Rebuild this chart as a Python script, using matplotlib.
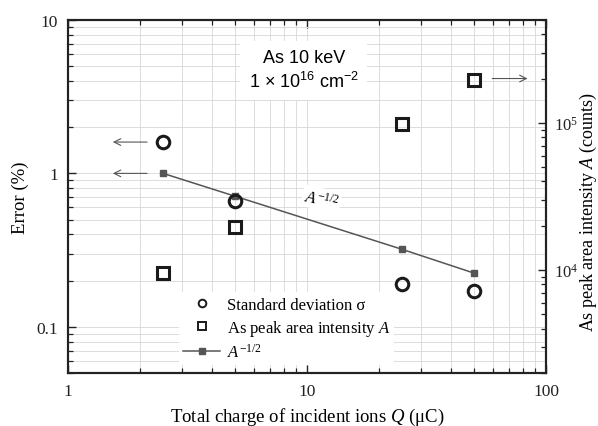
import numpy as np
import matplotlib
matplotlib.use('Agg')
from matplotlib import pyplot as plt
from matplotlib.lines import Line2D
from matplotlib import ticker

# values
Q = [2.5, 5, 25, 50]                      # total charge (uC)
sigma = [1.6, 0.66, 0.19, 0.17]           # standard deviation (%)
A = [9.6e3, 1.95e4, 9.8e4, 1.95e5]        # As peak area intensity (counts)
A_inv_sqrt = [1.0, 0.71, 0.32, 0.224]     # A^-1/2 (%)

plt.rcParams['font.family'] = 'Liberation Serif'
plt.rcParams['mathtext.fontset'] = 'custom'
plt.rcParams['mathtext.rm'] = 'Liberation Serif'
plt.rcParams['mathtext.it'] = 'Liberation Serif:italic'
plt.rcParams['mathtext.sf'] = 'Liberation Sans'

fig = plt.figure(figsize=(5.98, 4.27), dpi=100)
ax = fig.add_axes([0.1137, 0.124, 0.7993, 0.827])
ax2 = ax.twinx()

ax.set_xscale('log')
ax.set_yscale('log')
ax2.set_yscale('log')
ax.set_xlim(1, 100)
ax.set_ylim(0.05, 10)
ax2.set_ylim(2e3, 5e5)

# grid
ax.grid(True, which='both', color='#dcdcdc', linewidth=0.7, zorder=0)
ax.set_axisbelow(True)

# data
ax.plot(Q, A_inv_sqrt, color='#555555', lw=1.1, marker='s', ms=4.5, zorder=4)
ax.plot(Q, sigma, ls='none', marker='o', ms=9, mfc='none', mec='#1a1a1a', mew=2.2, zorder=7)
ax2.plot(Q, A, ls='none', marker='s', ms=8.5, mfc='none', mec='#1a1a1a', mew=2.2, zorder=5)

# arrows
arr = dict(arrowstyle='->', color='#555555', lw=0.8, mutation_scale=12)
ax.annotate('', xy=(1.5, 1.6), xytext=(2.2, 1.6), arrowprops=arr)
ax.annotate('', xy=(1.5, 1.0), xytext=(2.2, 1.0), arrowprops=arr)
ax2.annotate('', xy=(86, 2e5), xytext=(58, 2e5), arrowprops=arr)

# text
ax.text(9.7, 4.7, 'As 10 keV\n1 \u00d7 10$\\mathsf{^{16}}$ cm$\\mathsf{^{-2}}$',
        family='Liberation Sans', fontsize=13, ha='center', va='center',
        linespacing=1.3, zorder=3,
        bbox=dict(facecolor='white', edgecolor='none', pad=6))
ax.text(11.5, 0.68, '$A^{-1/2}$', fontsize=12, ha='center', va='center',
        rotation=-12, zorder=3,
        bbox=dict(facecolor='white', edgecolor='none', pad=1.5))

# legend
handles = [
    Line2D([], [], ls='none', marker='o', ms=5.5, mfc='none', mec='#1a1a1a', mew=1.4),
    Line2D([], [], ls='none', marker='s', ms=5.5, mfc='none', mec='#1a1a1a', mew=1.4),
    Line2D([], [], color='#555555', lw=1.1, marker='s', ms=5),
]
labels = ['Standard deviation \u03c3', 'As peak area intensity $A$', '$A^{-1/2}$']
leg = ax.legend(handles, labels, loc='lower left', bbox_to_anchor=(0.215, 0.0),
                frameon=True, fancybox=False, framealpha=1, edgecolor='none',
                facecolor='white', fontsize=12, handlelength=2.2,
                handletextpad=0.4, labelspacing=0.3, borderpad=0.25)
leg.set_zorder(6)

# ticks
for a in (ax, ax2):
    a.tick_params(which='both', direction='in', labelsize=12.5, colors='#222222', pad=7)
    a.tick_params(which='major', length=6, width=1.0)
    a.tick_params(which='minor', length=3.5, width=0.9)
ax.tick_params(which='both', top=True, right=False)
ax.tick_params(axis='x', pad=7)

ax.yaxis.set_major_locator(ticker.FixedLocator([0.1, 1, 10]))
ax.yaxis.set_major_formatter(ticker.FixedFormatter(['0.1', '1', '10']))
ax.xaxis.set_major_locator(ticker.FixedLocator([1, 10, 100]))
ax.xaxis.set_major_formatter(ticker.FixedFormatter(['1', '10', '100']))
ax2.yaxis.set_major_locator(ticker.FixedLocator([1e4, 1e5]))
ax2.yaxis.set_major_formatter(ticker.FixedFormatter(['10$^4$', '10$^5$']))
ax2.tick_params(labelsize=12, pad=6)
ax.yaxis.set_minor_formatter(ticker.NullFormatter())
ax.xaxis.set_minor_formatter(ticker.NullFormatter())
ax2.yaxis.set_minor_formatter(ticker.NullFormatter())

for a in (ax, ax2):
    for s in a.spines.values():
        s.set_linewidth(1.5)
        s.set_color('#222222')

ax.set_xlabel('Total charge of incident ions $Q$ (\u03bcC)', fontsize=13.5)
ax.xaxis.set_label_coords(0.5, -0.093)
ax.xaxis.label.set_va('top')
ax.set_ylabel('Error (%)', fontsize=13.5)
ax.yaxis.set_label_coords(-0.082, 0.5)
ax2.set_ylabel('As peak area intensity $A$ (counts)', fontsize=13)
ax2.yaxis.set_label_coords(1.067, 0.459)

fig.savefig('out.png', dpi=100)
